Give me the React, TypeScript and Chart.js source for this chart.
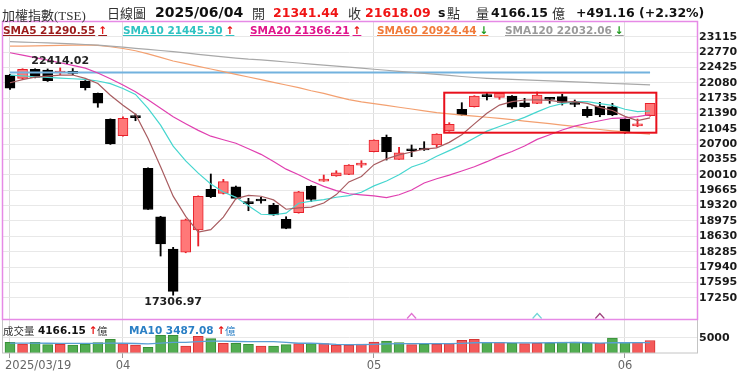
import React, { useEffect, useRef } from 'react';
import { Chart, registerables } from 'chart.js';

Chart.register(...registerables);

// ---------------- data ----------------
const dates = [
  '2025/03/19', '2025/03/20', '2025/03/21', '2025/03/24', '2025/03/25', '2025/03/26', '2025/03/27', '2025/03/28', '2025/03/31',
  '2025/04/01', '2025/04/02', '2025/04/07', '2025/04/08', '2025/04/09', '2025/04/10', '2025/04/11', '2025/04/14', '2025/04/15',
  '2025/04/16', '2025/04/17', '2025/04/18', '2025/04/21', '2025/04/22', '2025/04/23', '2025/04/24', '2025/04/25', '2025/04/28',
  '2025/04/29', '2025/04/30',
  '2025/05/02', '2025/05/05', '2025/05/06', '2025/05/07', '2025/05/08', '2025/05/09', '2025/05/12', '2025/05/13', '2025/05/14',
  '2025/05/15', '2025/05/16', '2025/05/19', '2025/05/20', '2025/05/21', '2025/05/22', '2025/05/23', '2025/05/26', '2025/05/27',
  '2025/05/28', '2025/05/29',
  '2025/06/02', '2025/06/03', '2025/06/04',
];

const opens = [
  22254, 22180, 22382, 22367, 22300, 22328, 22120, 21843, 21259,
  20890, 21310, 20158, 19070, 18345, 18271, 18771, 19686, 19596, 19744, 19380, 19430, 19333, 19012, 19160, 19760, 19870, 19985, 20023, 20228,
  20531, 20855, 20360, 20560, 20575, 20682, 20996, 21484, 21542, 21775, 21753, 21782, 21632, 21618, 21731, 21767, 21610, 21484, 21558, 21542,
  21259, 21110, 21341.44,
];
const highs = [
  22270, 22395, 22395, 22390, 22414.02, 22400, 22130, 21850, 21270,
  21317, 21378, 20170, 19080, 18383, 19019, 19540, 20030, 19911, 19760, 19484, 19506, 19372, 19070, 19640, 19770, 20007, 20104, 20240, 20329,
  20800, 20906, 20630, 20682, 20756, 20935, 21183, 21632, 21790, 21843, 21850, 21790, 21731, 21872, 21745, 21821, 21693, 21542, 21641, 21618,
  21270, 21265, 21620,
];
const lows = [
  21933, 22170, 22190, 22110, 22260, 22260, 21917, 21529, 20695,
  20880, 21227, 19232, 18187, 17306.97, 18260, 18412, 19500, 19580, 19470, 19205, 19372, 19100, 18800, 19150, 19410, 19865, 19980, 20015, 20180,
  20525, 20344, 20355, 20419, 20560, 20630, 20990, 21345, 21535, 21693, 21708, 21506, 21529, 21610, 21618, 21580, 21542, 21304, 21317, 21340,
  20944, 21095, 21330,
];
const closes = [
  21956, 22382, 22203, 22126, 22312, 22292, 21969, 21619, 20704,
  21281, 21298, 19232.35, 18459.95, 17391.76, 19000.59, 19528.77, 19520, 19857, 19484, 19365, 19423, 19109, 18810, 19632, 19460, 19879, 20059, 20232, 20235,
  20794, 20531, 20508, 20553, 20569, 20929, 21147, 21355, 21782, 21767, 21843, 21529, 21542, 21805, 21707, 21641, 21595, 21340, 21355, 21355,
  20980, 21126.93, 21618.09,
];

// volume (億), 1 = up day (red), 0 = down day (green)
const volumes = [
  3560, 3000, 3560, 2770, 2890, 2660, 3000, 3440, 4550,
  3110, 2660, 1890, 5880, 5880, 2330, 5550, 4770, 3220, 3220, 2890, 2330, 2330, 2770, 3110, 3110, 3110, 2660, 2660, 3000,
  3660, 4000, 3440, 2770, 2890, 3000, 3110, 4220, 4550, 3560, 3560, 3220, 3110, 3220, 3220, 3660, 3660, 3220, 3220, 5000,
  3560, 3560, 4166.15,
];
const volUp = [
  0, 1, 0, 0, 1, 0, 0, 0, 0,
  1, 1, 0, 0, 0, 1, 1, 0, 1, 0, 0, 1, 0, 0, 1, 0, 1, 1, 1, 1,
  1, 0, 0, 1, 0, 1, 1, 1, 1, 0, 1, 0, 1, 1, 0, 0, 0, 0, 1, 0,
  0, 1, 1,
];

const sma5 = [
  22081, 22150, 22205, 22230, 22250, 22254, 22180, 22064, 21800,
  21573, 21374, 20827, 20195, 19533, 19077, 18723, 18780, 19060, 19478, 19551, 19530, 19448, 19238, 19268, 19287, 19378, 19568, 19852, 19973,
  20240, 20370, 20460, 20524, 20591, 20618, 20741, 20911, 21156, 21396, 21579, 21655, 21693, 21697, 21685, 21645, 21658, 21618, 21528, 21457,
  21325, 21231, 21290.55,
];
const sma10 = [
  22254, 22235, 22215, 22200, 22185, 22170, 22155, 22120, 22060,
  21950, 21819, 21504, 21129, 20656, 20325, 20049, 19804, 19627, 19505, 19314, 19126, 19114, 19149, 19373, 19419, 19454, 19508, 19545, 19620,
  19763, 19874, 20014, 20188, 20282, 20429, 20556, 20685, 20840, 20994, 21098, 21198, 21302, 21427, 21541, 21612, 21657, 21655, 21612, 21571,
  21485, 21430, 21445.30,
];
const sma20 = [
  22755, 22700, 22645, 22590, 22530, 22470, 22410, 22300, 22170,
  22030, 21880, 21700, 21510, 21317, 21160, 21010, 20880, 20800, 20720, 20599, 20472, 20309, 20139, 20014, 19872, 19751, 19656, 19586, 19563,
  19539, 19500, 19564, 19669, 19828, 19924, 20005, 20097, 20193, 20307, 20431, 20536, 20658, 20808, 20911, 21020, 21106, 21170, 21226, 21282,
  21292, 21321, 21366.21,
];
const sma60 = [
  22905, 22905, 22910, 22915, 22920, 22925, 22930, 22920, 22890,
  22850, 22800, 22730, 22650, 22570, 22510, 22450, 22390, 22330, 22270, 22210, 22150, 22090, 22030, 21970, 21900, 21840, 21770, 21700, 21650,
  21610, 21570, 21530, 21490, 21450, 21410, 21380, 21355, 21330, 21305, 21280, 21250, 21220, 21190, 21160, 21130, 21100, 21060, 21030, 21000,
  20975, 20950, 20924.44,
];
const sma120 = [
  23005, 22995, 22985, 22975, 22965, 22955, 22940, 22925, 22905,
  22880, 22855, 22830, 22805, 22780, 22750, 22720, 22690, 22660, 22635, 22610, 22594, 22570, 22547, 22524, 22500, 22477, 22454, 22430, 22407,
  22384, 22361, 22338, 22314, 22291, 22268, 22245, 22221, 22198, 22180, 22168, 22157, 22145, 22134, 22122, 22110, 22099, 22087, 22076, 22064,
  22053, 22042, 22032.06,
];
const volMa10 = [
  3300, 3280, 3260, 3250, 3240, 3230, 3230, 3240, 3260,
  3250, 3160, 3050, 3280, 3560, 3520, 3800, 3960, 3950, 3830, 3800, 3770, 3800, 3510, 3250, 3310, 3080, 2880, 2820, 2800,
  2870, 3020, 3130, 3130, 3110, 3100, 3100, 3240, 3410, 3460, 3450, 3380, 3350, 3390, 3410, 3460, 3500, 3410, 3300, 3430,
  3420, 3440, 3487.08,
];

const refLevel = 22311;
const priceTicks = [17250, 17595, 17940, 18285, 18630, 18975, 19320, 19665, 20010, 20355, 20700, 21045, 21390, 21735, 22080, 22425, 22770, 23115];
const volTicks = [5000];
const boxIdx = [34.6, 51.5];
const boxVals = [21857, 20958];
const signalIdx = [32, 42, 47];

// ---------------- helpers ----------------
const N = dates.length;
const FB = "'DejaVu Sans', Verdana, sans-serif";
const CJK = "'Noto Sans CJK TC', 'Noto Sans CJK SC', sans-serif";
const SERIF_CJK = "'Liberation Serif', 'Noto Sans CJK TC', serif";

const monthTickIdx = dates
  .map((d, i) => (i === 0 || d.slice(5, 7) !== dates[i - 1].slice(5, 7) ? i : -1))
  .filter((i) => i >= 0);
const monthLabel = (i: number) => (i === 0 ? dates[0] : dates[i].slice(5, 7));

const isUp = (i: number) => closes[i] >= opens[i];
const pts = (arr: number[]) => arr.map((v, i) => ({ x: i, y: v }));
const f2 = (v: number) => v.toFixed(2);
const arrowUp = (arr: number[]) => arr[arr.length - 1] >= arr[arr.length - 2];

const decor = {
  id: 'decor',
  afterDatasetsDraw(chart: any) {
    const { ctx } = chart;
    const xs = chart.scales.x;
    const ys = chart.scales.y;
    ctx.save();
    // highlight box
    const bx1 = xs.getPixelForValue(boxIdx[0]);
    const bx2 = xs.getPixelForValue(boxIdx[1]);
    const by1 = ys.getPixelForValue(boxVals[0]);
    const by2 = ys.getPixelForValue(boxVals[1]);
    ctx.strokeStyle = '#e8101c';
    ctx.lineWidth = 2;
    ctx.strokeRect(bx1, by1, bx2 - bx1, by2 - by1);
    // high / low labels
    let hi = 0;
    let lo = 0;
    highs.forEach((v, i) => { if (v > highs[hi]) hi = i; });
    lows.forEach((v, i) => { if (v < lows[lo]) lo = i; });
    ctx.font = `bold 11px ${FB}`;
    ctx.fillStyle = '#222';
    ctx.textAlign = 'center';
    ctx.textBaseline = 'bottom';
    ctx.fillText(f2(highs[hi]), xs.getPixelForValue(hi), ys.getPixelForValue(highs[hi]) - 1);
    ctx.textBaseline = 'top';
    ctx.fillText(f2(lows[lo]), xs.getPixelForValue(lo), ys.getPixelForValue(lows[lo]) + 1);
    // signal chevrons
    const cols = ['#e070d0', '#6fd6d6', '#9b3f7a'];
    signalIdx.forEach((si, k) => {
      const px = xs.getPixelForValue(si);
      const base = ys.bottom - 0.5;
      ctx.beginPath();
      ctx.moveTo(px - 4.5, base);
      ctx.lineTo(px, base - 5);
      ctx.lineTo(px + 4.5, base);
      ctx.strokeStyle = cols[k];
      ctx.lineWidth = 1.2;
      ctx.stroke();
    });
    ctx.restore();
  },
  afterDraw(chart: any) {
    const { ctx, chartArea: ca } = chart;
    const xs = chart.scales.x;
    const ys = chart.scales.y;
    const yv = chart.scales.yv;
    ctx.save();
    // volume panel border
    ctx.strokeStyle = '#c4c4c4';
    ctx.lineWidth = 1;
    ctx.strokeRect(ca.left + 0.5, ys.bottom + 0.5, ca.right - ca.left, yv.bottom - ys.bottom - 0.5);
    // main panel border
    ctx.strokeStyle = '#e68ae6';
    ctx.lineWidth = 1.5;
    ctx.strokeRect(ca.left + 0.5, ca.top + 0.5, ca.right - ca.left, ys.bottom - ca.top);
    // x labels
    ctx.font = `11.5px ${FB}`;
    ctx.fillStyle = '#666';
    ctx.textBaseline = 'middle';
    monthTickIdx.forEach((ti, k) => {
      const px = xs.getPixelForValue(ti);
      if (k === 0) {
        ctx.textAlign = 'left';
        ctx.fillText(monthLabel(ti), px - 5, ca.bottom + 13);
      } else {
        ctx.textAlign = 'center';
        ctx.fillText(monthLabel(ti), px, ca.bottom + 13);
      }
    });
    ctx.restore();
  },
};

const abs = (left: number, top: number, style: React.CSSProperties = {}): React.CSSProperties => ({
  position: 'absolute',
  left,
  top,
  whiteSpace: 'nowrap',
  lineHeight: 1,
  ...style,
});

export default function App() {
  const ref = useRef<HTMLCanvasElement | null>(null);

  useEffect(() => {
    document.body.style.margin = '0';
    const canvas = ref.current;
    if (!canvas) return;

    const lineDs = (arr: number[], color: string, width = 1.2, axis = 'y', order = 1) => ({
      type: 'line' as const,
      data: pts(arr),
      borderColor: color,
      borderWidth: width,
      pointRadius: 0,
      fill: false,
      tension: 0,
      xAxisID: 'x',
      yAxisID: axis,
      order,
    });

    const chart = new Chart(canvas, {
      type: 'bar',
      data: {
        datasets: [
          // wicks
          {
            type: 'bar',
            data: dates.map((_, i) => ({ x: i, y: [lows[i], highs[i]] })),
            backgroundColor: (c: any) => (isUp(c.dataIndex) ? '#e8202a' : '#000'),
            borderWidth: 0,
            barThickness: 1.2,
            grouped: false,
            minBarLength: 1,
            xAxisID: 'x',
            yAxisID: 'y',
            order: 6,
          } as any,
          // bodies
          {
            type: 'bar',
            data: dates.map((_, i) => ({ x: i, y: [opens[i], closes[i]] })),
            backgroundColor: (c: any) => (isUp(c.dataIndex) ? '#ff7878' : '#000'),
            borderColor: (c: any) => (isUp(c.dataIndex) ? '#e8202a' : '#000'),
            borderWidth: 1,
            borderSkipped: false,
            barThickness: 10,
            grouped: false,
            minBarLength: 2,
            xAxisID: 'x',
            yAxisID: 'y',
            order: 5,
          } as any,
          // volume
          {
            type: 'bar',
            data: pts(volumes),
            backgroundColor: (c: any) => (volUp[c.dataIndex] ? '#f45a5a' : '#52ad52'),
            borderColor: (c: any) => (volUp[c.dataIndex] ? '#d63434' : '#378f37'),
            borderWidth: 1,
            borderSkipped: 'start',
            barThickness: 10,
            grouped: false,
            xAxisID: 'x',
            yAxisID: 'yv',
            order: 7,
          } as any,
          lineDs(dates.map(() => refLevel), '#72b2de', 2, 'y', 4),
          lineDs(sma120, '#a8a8a8', 1.2, 'y', 3),
          lineDs(sma60, '#f3a070', 1.2, 'y', 3),
          lineDs(sma20, '#e040b0', 1.2, 'y', 2),
          lineDs(sma10, '#45d6cf', 1.2, 'y', 2),
          lineDs(sma5, '#a85c60', 1.2, 'y', 1),
          lineDs(volMa10, '#5a9fd4', 1.3, 'yv', 1),
        ] as any,
      },
      options: {
        responsive: false,
        animation: false,
        devicePixelRatio: 1,
        layout: { padding: { top: 21, left: 2, right: 0, bottom: 0 } },
        plugins: { legend: { display: false }, tooltip: { enabled: false } },
        scales: {
          x: {
            type: 'linear',
            min: -0.637,
            max: 54.74,
            offset: false,
            afterBuildTicks: (s: any) => { s.ticks = monthTickIdx.map((v) => ({ value: v })); },
            afterFit: (s: any) => { s.height = 20; },
            ticks: { display: false },
            grid: { color: '#dedede', offset: false, drawTicks: true, tickLength: 5, tickColor: '#9a9a9a' },
            border: { display: false },
          },
          y: {
            type: 'linear',
            position: 'right',
            stack: 'panes',
            stackWeight: 298,
            min: 16772,
            max: 23468,
            afterBuildTicks: (s: any) => { s.ticks = priceTicks.map((v) => ({ value: v })); },
            afterFit: (s: any) => { s.width = 43; },
            ticks: {
              autoSkip: false,
              color: '#1a1a1a',
              padding: 2,
              font: { family: 'DejaVu Sans', size: 11, weight: 'bold' },
              callback: (v: any) => String(v),
            },
            grid: { color: '#e8e8e8', drawTicks: false },
            border: { display: false },
          },
          yv: {
            type: 'linear',
            position: 'right',
            stack: 'panes',
            stackWeight: 34,
            min: 0,
            max: 11330,
            afterBuildTicks: (s: any) => { s.ticks = volTicks.map((v) => ({ value: v })); },
            afterFit: (s: any) => { s.width = 43; },
            ticks: {
              autoSkip: false,
              color: '#1a1a1a',
              padding: 2,
              font: { family: 'DejaVu Sans', size: 11, weight: 'bold' },
              callback: (v: any) => String(v),
            },
            grid: { color: '#e8e8e8', drawTicks: false },
            border: { display: false },
          },
        },
      } as any,
      plugins: [decor],
    });
    return () => chart.destroy();
  }, []);

  const last = N - 1;
  const chg = closes[last] - closes[last - 1];
  const pct = (chg / closes[last - 1]) * 100;
  const sign = chg >= 0 ? '+' : '';
  const cjk13: React.CSSProperties = { font: `13px ${CJK}`, color: '#333' };
  const num: React.CSSProperties = { font: `bold 12.5px ${FB}` };
  const leg = (left: number, text: string, color: string, up: boolean) => (
    <span style={abs(left, 24, { font: `bold 10.5px ${FB}`, color, textDecoration: 'underline' })}>
      {text}
      <span style={{ color: up ? '#e81414' : '#1c9a1c', marginLeft: 3 }}>{up ? '↑' : '↓'}</span>
    </span>
  );

  return (
    <div style={{ position: 'relative', width: 740, height: 373, background: '#fff', overflow: 'hidden' }}>
      <canvas ref={ref} width={740} height={373} style={{ position: 'absolute', left: 0, top: 0, width: 740, height: 373 }} />
      {/* header */}
      <span style={abs(2, 4.5, { font: `13px ${SERIF_CJK}`, color: '#333' })}>加權指數(TSE)</span>
      <span style={abs(107, 3.3, cjk13)}>日線圖</span>
      <span style={abs(155, 4, { font: `bold 14px ${FB}`, color: '#111' })}>{dates[last]}</span>
      <span style={abs(252, 3.3, cjk13)}>開</span>
      <span style={abs(273, 4.5, { ...num, color: '#f01414' })}>{f2(opens[last])}</span>
      <span style={abs(348, 3.3, cjk13)}>收</span>
      <span style={abs(365, 4.5, { ...num, color: '#f01414' })}>{f2(closes[last])}</span>
      <span style={abs(438, 4.5, { ...num, color: '#111' })}>s</span>
      <span style={abs(447, 3.3, cjk13)}>點</span>
      <span style={abs(476, 3.3, cjk13)}>量</span>
      <span style={abs(491, 4.5, { ...num, color: '#111' })}>{f2(volumes[last])}</span>
      <span style={abs(552, 3.3, cjk13)}>億</span>
      <span style={abs(576, 4.5, { ...num, color: '#111' })}>{`${sign}${f2(chg)} (${sign}${pct.toFixed(2)}%)`}</span>
      {/* MA legend */}
      {leg(3, `SMA5 ${f2(sma5[last])}`, '#9b1c1c', arrowUp(sma5))}
      {leg(123, `SMA10 ${f2(sma10[last])}`, '#2fc2c2', arrowUp(sma10))}
      {leg(250, `SMA20 ${f2(sma20[last])}`, '#e0168c', arrowUp(sma20))}
      {leg(377, `SMA60 ${f2(sma60[last])}`, '#f07a3a', arrowUp(sma60))}
      {leg(505, `SMA120 ${f2(sma120[last])}`, '#9a9a9a', arrowUp(sma120))}
      {/* volume legend */}
      <span style={abs(3, 323, { font: `10.5px ${CJK}`, color: '#333' })}>成交量</span>
      <span style={abs(38, 324, { font: `bold 10.5px ${FB}`, color: '#111' })}>
        {f2(volumes[last])}
        <span style={{ color: '#e81414', marginLeft: 3 }}>{volumes[last] >= volumes[last - 1] ? '↑' : '↓'}</span>
      </span>
      <span style={abs(97, 323, { font: `10.5px ${CJK}`, color: '#333' })}>億</span>
      <span style={abs(129, 324, { font: `bold 10.5px ${FB}`, color: '#2a7fc5' })}>
        {`MA10 ${f2(volMa10[last])}`}
        <span style={{ color: '#e81414', marginLeft: 3 }}>{arrowUp(volMa10) ? '↑' : '↓'}</span>
      </span>
      <span style={abs(225, 323, { font: `10.5px ${CJK}`, color: '#2a7fc5' })}>億</span>
    </div>
  );
}
